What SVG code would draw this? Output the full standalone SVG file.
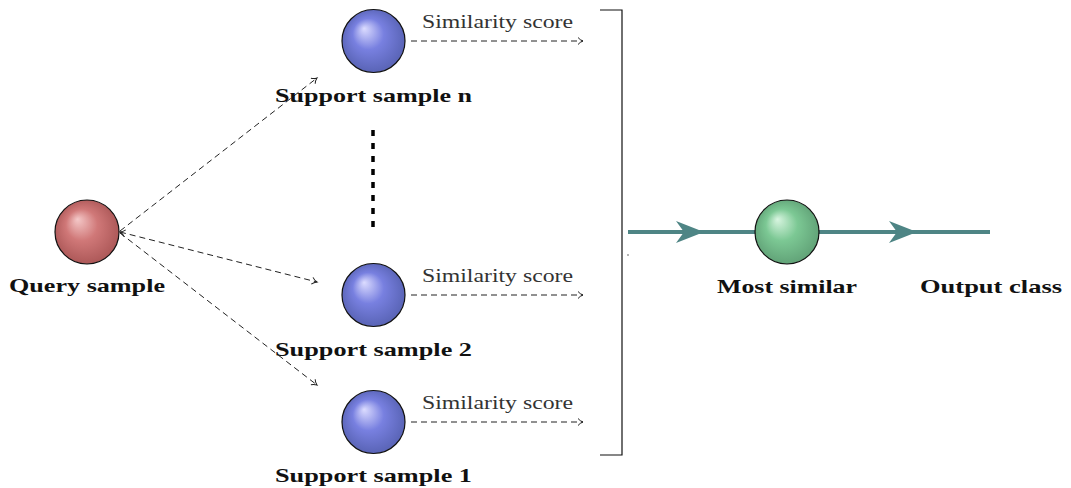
<svg xmlns="http://www.w3.org/2000/svg" width="1071" height="488" viewBox="0 0 1071 488">
<style>
.lbl{font-family:"Liberation Serif","DejaVu Serif",serif;font-weight:bold;font-size:19px;fill:#111}
.sim{font-family:"Liberation Serif","DejaVu Serif",serif;font-size:19px;fill:#333}
.dash{fill:none;stroke:#222;stroke-width:1;stroke-dasharray:6,4}
.ball{stroke:#111;stroke-width:1.2}
.teal{stroke:#4e8585;stroke-width:4;fill:none}
</style>
<defs>
<radialGradient id="gRed" cx="0.5" cy="0.5" r="0.55" fx="0.35" fy="0.3">
<stop offset="0" stop-color="#f4c8c8"/><stop offset="0.45" stop-color="#d07878"/><stop offset="1" stop-color="#a85454"/>
</radialGradient>
<radialGradient id="gBlue" cx="0.5" cy="0.5" r="0.55" fx="0.35" fy="0.3">
<stop offset="0" stop-color="#dcdcff"/><stop offset="0.45" stop-color="#7880e0"/><stop offset="1" stop-color="#5560b0"/>
</radialGradient>
<radialGradient id="gGreen" cx="0.5" cy="0.5" r="0.55" fx="0.35" fy="0.3">
<stop offset="0" stop-color="#d8f5e0"/><stop offset="0.45" stop-color="#7cc894"/><stop offset="1" stop-color="#5e9e74"/>
</radialGradient>
<marker id="open" markerWidth="10" markerHeight="10" refX="7" refY="4" orient="auto-start-reverse" markerUnits="userSpaceOnUse">
<path d="M2,0.5 Q4,3 7,4 Q4,5 2,7.5" fill="none" stroke="#222" stroke-width="1"/>
</marker>
</defs>
<g id="connectors">
<line class="dash" x1="120" y1="231" x2="317" y2="78" marker-end="url(#open)"/>
<line class="dash" x1="120" y1="232" x2="317" y2="282" marker-start="url(#open)" marker-end="url(#open)"/>
<line class="dash" x1="120" y1="233" x2="317" y2="385" marker-end="url(#open)"/>
<line class="dash" x1="411" y1="41" x2="583" y2="41" marker-end="url(#open)"/>
<line class="dash" x1="411" y1="295" x2="583" y2="295" marker-end="url(#open)"/>
<line class="dash" x1="411" y1="422" x2="583" y2="422" marker-end="url(#open)"/>
<line x1="373" y1="130" x2="373" y2="230" stroke="#000" stroke-width="3.5" stroke-dasharray="6,7"/>
<polyline points="600,10 622,10 622,455 600,455" fill="none" stroke="#111" stroke-width="1.2"/>
<line class="teal" x1="628" y1="232" x2="990" y2="232"/>
<path d="M676,221 L704,232 L676,243 L684,232 Z" fill="#4e8585"/>
<path d="M889,221 L917,232 L889,243 L897,232 Z" fill="#4e8585"/>
<circle cx="628" cy="255" r="0.7" fill="#333"/>
</g>
<g id="query"><circle class="ball" cx="87" cy="232" r="32" fill="url(#gRed)"/>
<text class="lbl" x="87" y="292" text-anchor="middle" textLength="156" lengthAdjust="spacingAndGlyphs">Query sample</text></g>
<g id="support-n"><circle class="ball" cx="373.5" cy="41" r="31.5" fill="url(#gBlue)"/>
<text class="lbl" x="373.5" y="102" text-anchor="middle" textLength="197" lengthAdjust="spacingAndGlyphs">Support sample n</text>
<text class="sim" x="497.5" y="28" text-anchor="middle" textLength="151" lengthAdjust="spacingAndGlyphs">Similarity score</text></g>
<g id="support-2"><circle class="ball" cx="373.5" cy="295" r="31.5" fill="url(#gBlue)"/>
<text class="lbl" x="373.5" y="356" text-anchor="middle" textLength="197" lengthAdjust="spacingAndGlyphs">Support sample 2</text>
<text class="sim" x="497.5" y="282" text-anchor="middle" textLength="151" lengthAdjust="spacingAndGlyphs">Similarity score</text></g>
<g id="support-1"><circle class="ball" cx="373.5" cy="422" r="31.5" fill="url(#gBlue)"/>
<text class="lbl" x="373.5" y="482" text-anchor="middle" textLength="197" lengthAdjust="spacingAndGlyphs">Support sample 1</text>
<text class="sim" x="497.5" y="409" text-anchor="middle" textLength="151" lengthAdjust="spacingAndGlyphs">Similarity score</text></g>
<g id="most-similar"><circle class="ball" cx="787" cy="232" r="32" fill="url(#gGreen)"/>
<text class="lbl" x="787" y="293" text-anchor="middle" textLength="140" lengthAdjust="spacingAndGlyphs">Most similar</text></g>
<g id="output"><text class="lbl" x="991" y="293" text-anchor="middle" textLength="142" lengthAdjust="spacingAndGlyphs">Output class</text></g>
</svg>
